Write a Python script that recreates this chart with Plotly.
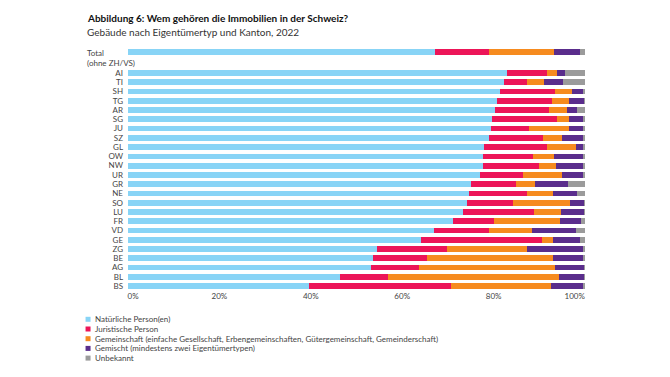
import plotly.graph_objects as go

categories = ["Total", "AI", "TI", "SH", "TG", "AR", "SG", "JU", "SZ", "GL", "OW", "NW",
              "UR", "GR", "NE", "SO", "LU", "FR", "VD", "GE", "ZG", "BE", "AG", "BL", "BS"]

natuerlich = [67.1, 82.9, 82.3, 81.3, 80.8, 80.3, 79.6, 79.5, 79.1, 78.0, 77.6, 77.6,
              77.0, 75.0, 74.7, 74.1, 73.4, 71.1, 66.9, 64.2, 54.5, 53.7, 53.1, 46.4, 39.7]
juristisch = [11.9, 8.7, 5.0, 12.1, 11.9, 11.8, 14.3, 8.3, 11.6, 13.6, 11.1, 12.4,
              9.4, 9.9, 12.5, 10.1, 15.5, 9.0, 12.1, 26.3, 15.4, 11.8, 10.6, 10.5, 31.0]
gemeinschaft = [14.3, 2.3, 3.8, 3.7, 3.9, 3.9, 2.7, 8.8, 4.3, 6.5, 4.6, 3.7,
                8.6, 4.2, 5.7, 12.6, 5.9, 14.4, 9.5, 2.6, 17.5, 27.6, 29.7, 37.5, 21.8]
gemischt = [5.6, 1.8, 4.1, 2.5, 3.2, 2.3, 3.0, 3.1, 4.7, 1.6, 6.3, 6.0,
            4.5, 7.2, 5.4, 3.0, 5.0, 4.6, 9.5, 5.7, 12.2, 6.6, 6.4, 5.4, 7.2]
unbekannt = [1.1, 4.3, 4.8, 0.4, 0.2, 1.7, 0.4, 0.3, 0.3, 0.3, 0.4, 0.3,
             0.5, 3.7, 1.7, 0.2, 0.2, 0.9, 2.0, 1.2, 0.4, 0.3, 0.2, 0.2, 0.3]

series_names = ["Natürliche Person(en)", "Juristische Person",
                "Gemeinschaft (einfache Gesellschaft, Erbengemeinschaften, Gütergemeinschaft, Gemeinderschaft)",
                "Gemischt (mindestens zwei Eigentümertypen)", "Unbekannt"]
series_values = [natuerlich, juristisch, gemeinschaft, gemischt, unbekannt]
colors = ["#88D4F6", "#EC1558", "#F68B1F", "#5A2D8C", "#9B9B9B"]

x_tickvals = [0, 20, 40, 60, 80, 100]
x_ticklabels = ["0%", "20%", "40%", "60%", "80%", "100%"]

# first label justified to the left edge, last label to the right edge
NB = "\u00a0"
x_ticktext = list(x_ticklabels)
x_ticktext[0] = NB * 5 + x_ticktext[0]
x_ticktext[-1] = x_ticktext[-1] + NB * 10

# numeric y positions: cantons 0..23 from bottom, Total separated by a gap
n = len(categories) - 1
ypos = [n + 1.3] + [n - 1 - i for i in range(n)]

FONT = "Lato, 'Open Sans', sans-serif"

fig = go.Figure()
for name, vals, col in zip(series_names, series_values, colors):
    fig.add_trace(go.Bar(
        y=ypos, x=vals, name=name, orientation="h",
        marker=dict(color=col, line=dict(width=0)),
        showlegend=False,
    ))

W, H = 670, 377
ml, mr, mt, mb = 127.5, 85, 44, 87

fig.update_layout(
    width=W, height=H,
    barmode="stack", bargap=0.38,
    paper_bgcolor="white", plot_bgcolor="white",
    margin=dict(l=ml, r=mr, t=mt, b=mb, pad=0),
    font=dict(family=FONT, size=8, color="#333333"),
    xaxis=dict(range=[0, 100], tickvals=x_tickvals, ticktext=x_ticktext,
               showgrid=False, zeroline=False, showline=False, ticks="",
               tickfont=dict(size=8, color="#444444"), fixedrange=True),
    yaxis=dict(range=[-0.43, 26.14], tickvals=ypos[1:], ticktext=categories[1:],
               showgrid=False, zeroline=False, showline=False, ticks="",
               ticklen=0, ticklabelstandoff=4,
               tickfont=dict(size=8, color="#444444"), fixedrange=True),
)

pw = W - ml - mr
ph = H - mt - mb

def px_x(p):
    return (p - ml) / pw

def px_y(p):
    return 1 - (p - mt) / ph

annotations = [
    dict(text="<b>Abbildung 6: Wem gehören die Immobilien in der Schweiz?</b>",
         x=px_x(84), y=px_y(17.5), xref="paper", yref="paper",
         xanchor="left", yanchor="middle", showarrow=False,
         font=dict(size=10, color="#111111")),
    dict(text="Gebäude nach Eigentümertyp und Kanton, 2022",
         x=px_x(84), y=px_y(32), xref="paper", yref="paper",
         xanchor="left", yanchor="middle", showarrow=False,
         font=dict(size=10, color="#333333")),
    dict(text="Total", x=px_x(84), y=px_y(52.5), xref="paper", yref="paper",
         xanchor="left", yanchor="middle", showarrow=False,
         font=dict(size=8, color="#444444")),
    dict(text="(ohne ZH/VS)", x=px_x(84), y=px_y(62.5), xref="paper", yref="paper",
         xanchor="left", yanchor="middle", showarrow=False,
         font=dict(size=8, color="#444444")),
]

shapes = []
leg_y0 = 319.3
leg_dy = 9.7
for i, (name, col) in enumerate(zip(series_names, colors)):
    yc = leg_y0 + i * leg_dy
    shapes.append(dict(type="rect", xref="paper", yref="paper",
                       x0=px_x(85), x1=px_x(90), y0=px_y(yc + 2.5), y1=px_y(yc - 2.5),
                       fillcolor=col, line=dict(width=0)))
    annotations.append(dict(text=name, x=px_x(92.5), y=px_y(yc), xref="paper", yref="paper",
                            xanchor="left", yanchor="middle", showarrow=False,
                            font=dict(size=8, color="#444444")))

fig.update_layout(annotations=annotations, shapes=shapes)
fig.write_html("out.html", config={"displayModeBar": False},
               post_script="document.body.style.margin='0';")
